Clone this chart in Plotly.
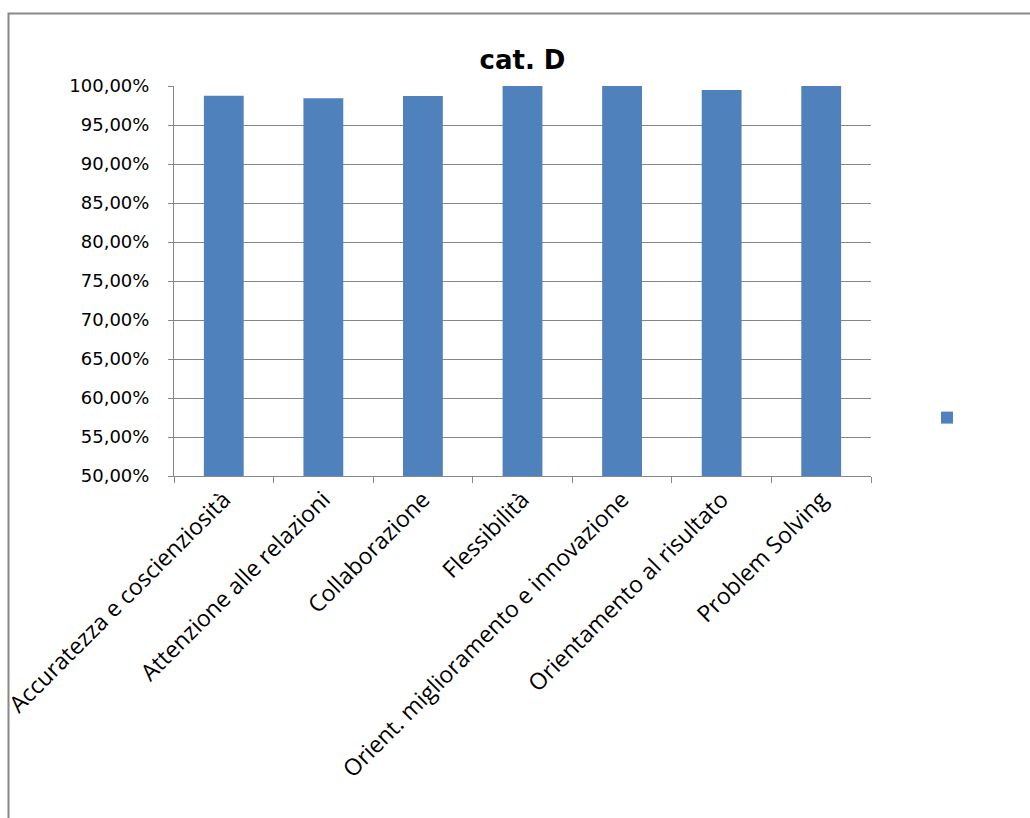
import plotly.graph_objects as go

categories = [
    "Accuratezza e coscienziosità",
    "Attenzione alle relazioni",
    "Collaborazione",
    "Flessibilità",
    "Orient. miglioramento e innovazione",
    "Orientamento al risultato",
    "Problem Solving",
]
values = [0.9876, 0.9842, 0.9872, 1.0, 1.0, 0.9949, 1.0]
title_text = "cat. D"

W, H = 1030, 818
L, R, T, B = 174, 871, 86, 476

fig = go.Figure()
fig.add_trace(go.Bar(
    x=categories, y=values, name="",
    marker=dict(color="#4F81BD", line=dict(width=0)),
    showlegend=True,
))

font_family = "Open Sans"
grid = "#868686"

fig.update_layout(
    width=W, height=H,
    margin=dict(l=L, r=W - R, t=T, b=H - B, pad=0, autoexpand=False),
    paper_bgcolor="white", plot_bgcolor="white",
    separators=",.",
    bargap=0.6,
    title=dict(text="<b>" + title_text + "</b>", x=0.5, xref="paper", xanchor="center",
               y=1 - 60 / H, yref="container", yanchor="middle",
               font=dict(family="DejaVu Sans", size=26, color="black")),
    font=dict(family=font_family, color="black"),
    showlegend=True,
    legend=dict(x=(947 - L - 20) / (R - L), xanchor="left",
                y=(B - 418) / (B - T), yanchor="middle",
                bgcolor="rgba(0,0,0,0)", font=dict(size=14)),
    xaxis=dict(
        type="category", tickangle=-45, tickson="boundaries",
        ticks="outside", ticklen=6, tickcolor=grid, tickwidth=1,
        showline=True, linecolor=grid, linewidth=1, automargin=False,
        showgrid=False, tickfont=dict(size=23, family=font_family),
    ),
    yaxis=dict(
        range=[0.5, 1.0], dtick=0.05, tick0=0.5, tickformat=".2%",
        ticks="outside", ticklen=5, tickcolor=grid, tickwidth=1,
        showline=True, linecolor=grid, linewidth=1, automargin=False,
        showgrid=True, gridcolor=grid, gridwidth=1,
        tickfont=dict(size=18, family="DejaVu Sans"), zeroline=False,
        ticklabelstandoff=15,
    ),
)

# outer chart border
fig.add_shape(type="rect", xref="paper", yref="paper",
              x0=(8.5 - L) / (R - L), x1=(W + 20 - L) / (R - L),
              y0=-(H + 20 - B) / (B - T), y1=1 + (T - 13.5) / (B - T),
              line=dict(color="#888888", width=2), fillcolor="rgba(0,0,0,0)", layer="below")

fig.write_html("out.html")
